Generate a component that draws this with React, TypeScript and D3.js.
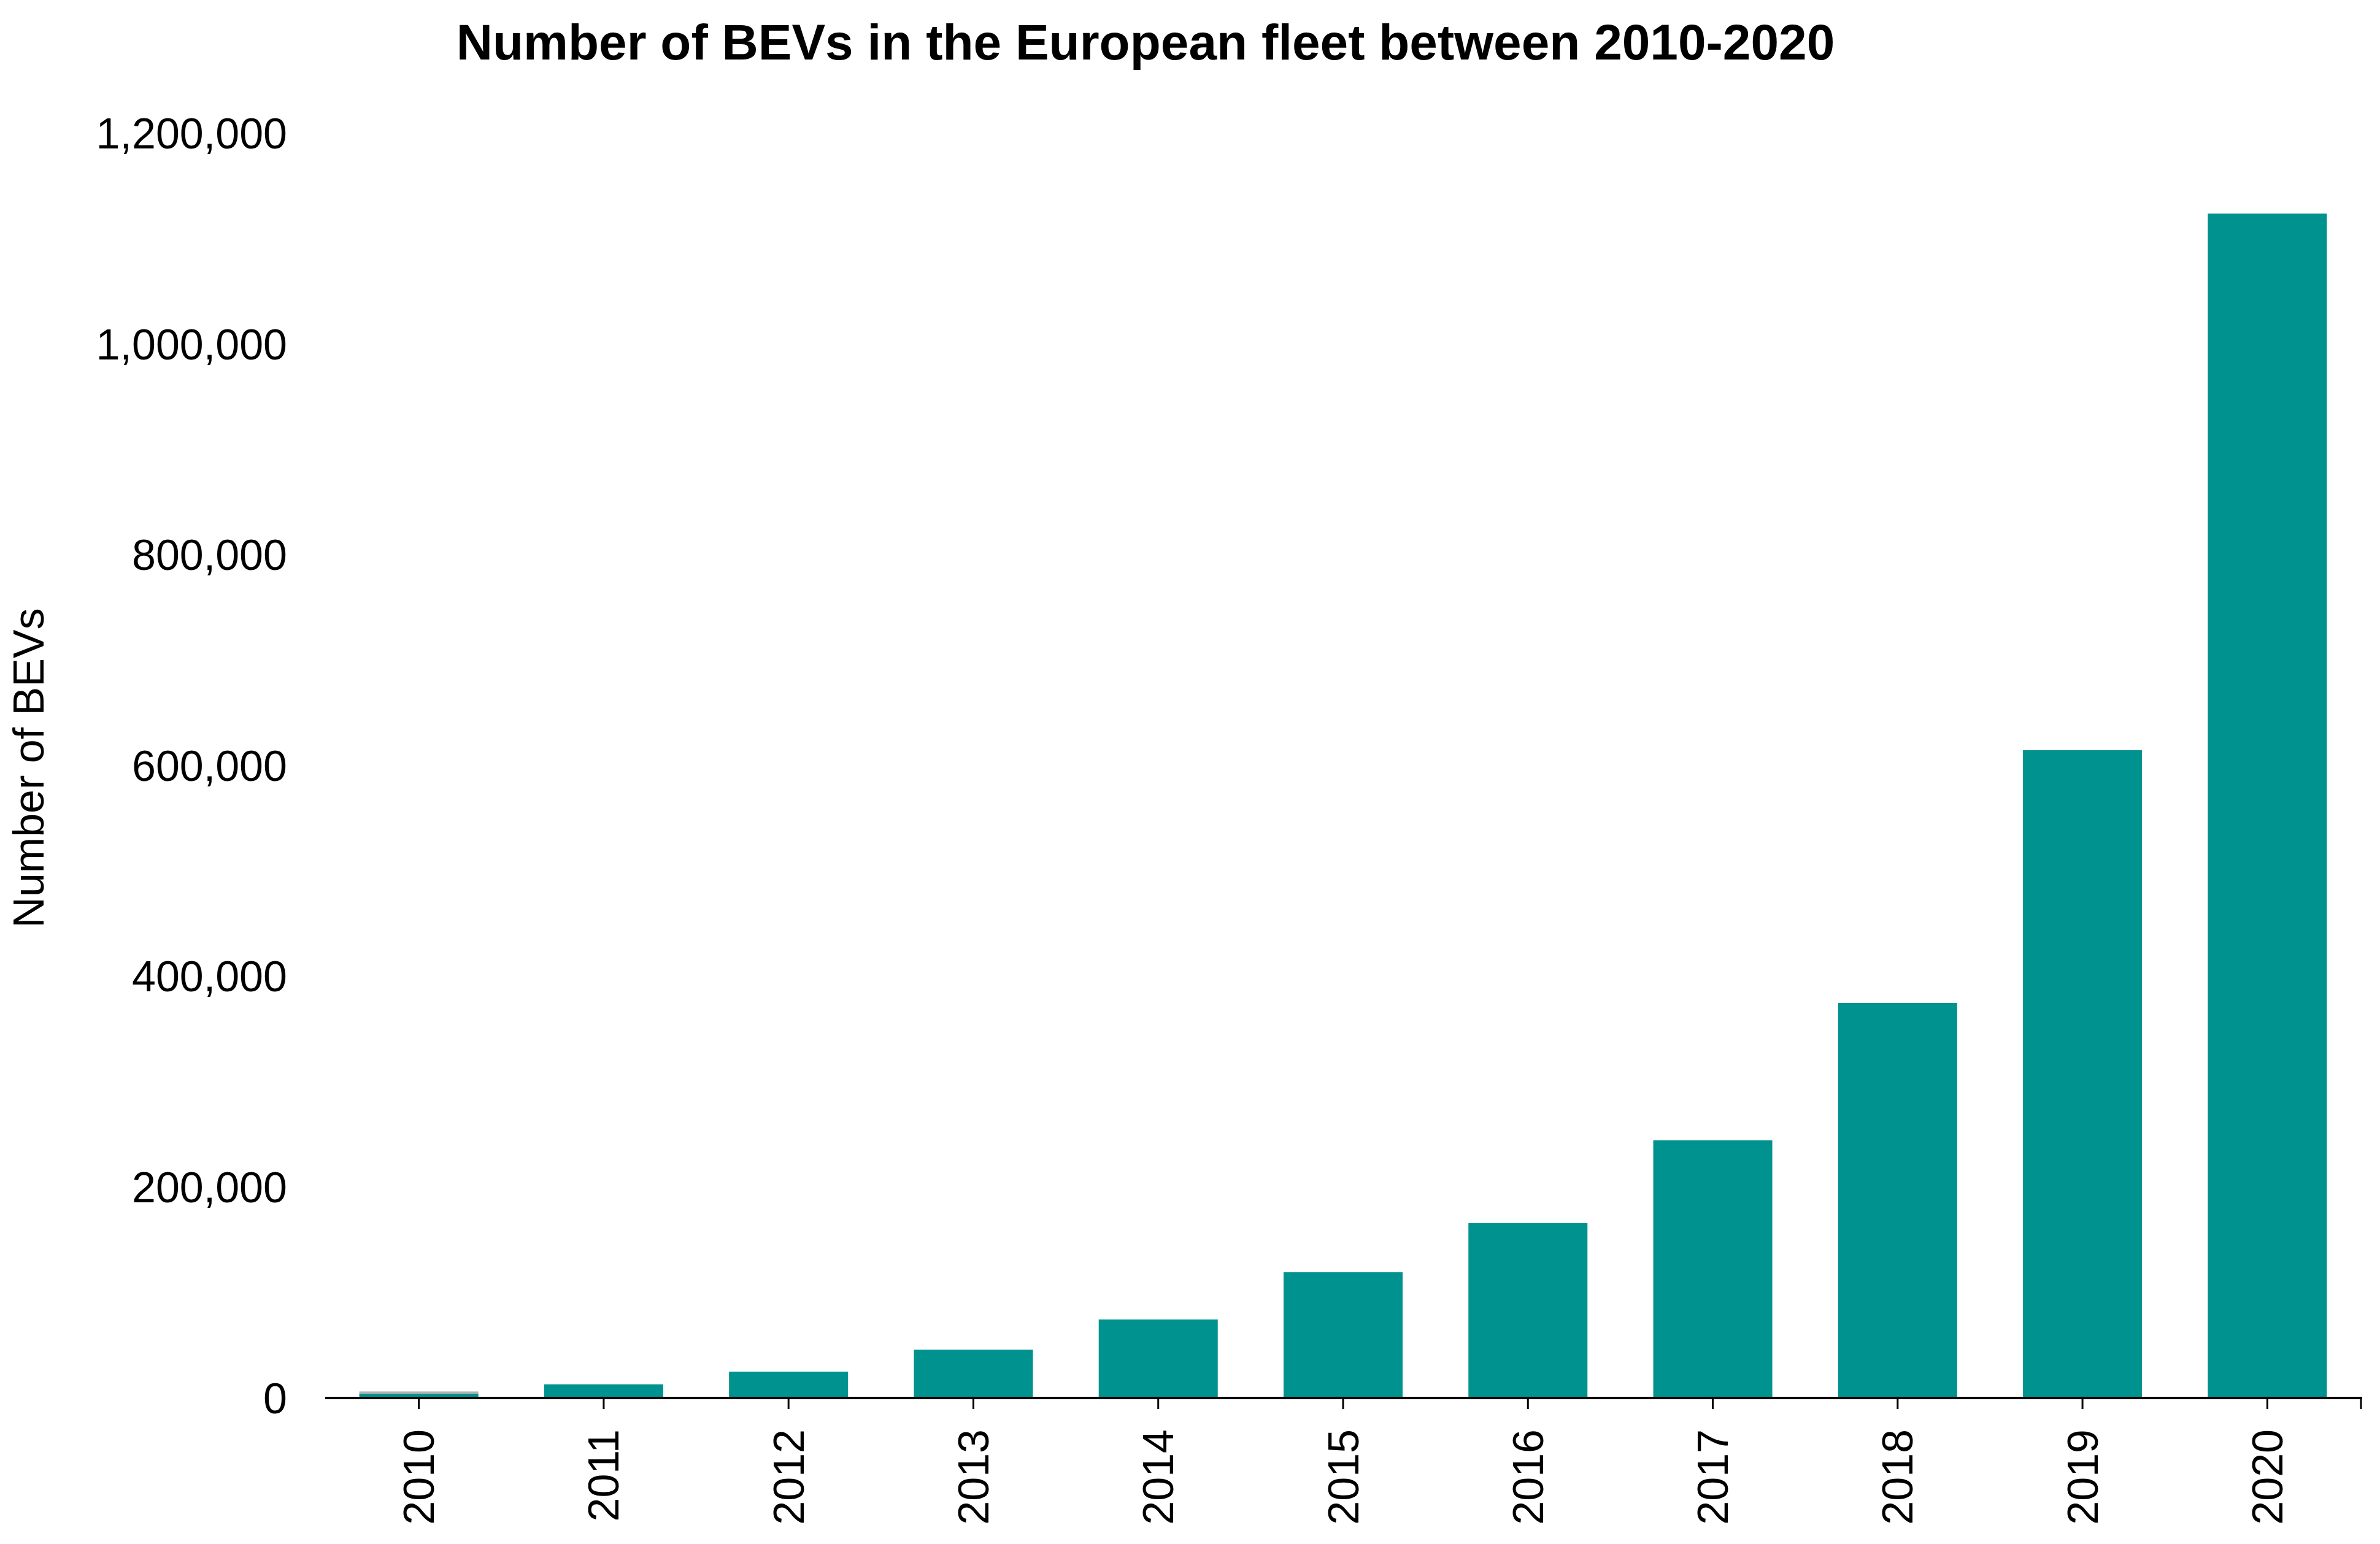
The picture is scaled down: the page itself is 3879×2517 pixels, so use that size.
import { useRef, useEffect } from "react";
import * as d3 from "d3";

const years = ["2010", "2011", "2012", "2013", "2014", "2015", "2016", "2017", "2018", "2019", "2020"];
const bevFleet = [4100, 13000, 25000, 45800, 74500, 119300, 165900, 244500, 374900, 614700, 1123900];
// small grey cap that sits on top of the 2010 bar
const greyCap = [2100, 0, 0, 0, 0, 0, 0, 0, 0, 0, 0];
const yTicks = [0, 200000, 400000, 600000, 800000, 1000000, 1200000];

const title = "Number of BEVs in the European fleet between 2010-2020";
const yLabel = "Number of BEVs";

export default function App() {
  const svgRef = useRef<SVGSVGElement>(null);

  useEffect(() => {
    if (!svgRef.current) return;
    const svg = d3.select(svgRef.current);
    svg.selectAll("*").remove();

    const width = 3879;
    const height = 2517;
    const font = "'Liberation Sans', Arial, Helvetica, sans-serif";
    const teal = "#00928f";

    svg.append("rect").attr("width", width).attr("height", height).attr("fill", "white");

    const x = d3.scaleBand<string>().domain(years).range([532, 3846]).paddingInner(0.356).paddingOuter(0.178);
    const y = d3.scaleLinear().domain([0, 1200000]).range([2279, 217.5]);

    // bars
    svg
      .append("g")
      .selectAll("rect")
      .data(years)
      .enter()
      .append("rect")
      .attr("x", (d) => x(d)!)
      .attr("width", x.bandwidth())
      .attr("y", (_, i) => y(bevFleet[i]))
      .attr("height", (_, i) => y(0) - y(bevFleet[i]))
      .attr("fill", teal);

    svg
      .append("g")
      .selectAll("rect")
      .data(years.filter((_, i) => greyCap[i] > 0))
      .enter()
      .append("rect")
      .attr("x", (d) => x(d)!)
      .attr("width", x.bandwidth())
      .attr("y", (d) => {
        const i = years.indexOf(d);
        return y(bevFleet[i] + greyCap[i]);
      })
      .attr("height", (d) => {
        const i = years.indexOf(d);
        return y(bevFleet[i]) - y(bevFleet[i] + greyCap[i]);
      })
      .attr("fill", "#b3b3b3");

    // x axis
    const xAxis = svg.append("g");
    xAxis
      .append("line")
      .attr("x1", 530)
      .attr("x2", 3850)
      .attr("y1", y(0))
      .attr("y2", y(0))
      .attr("stroke", "black")
      .attr("stroke-width", 4);
    const tickXs = [...years.map((d) => x(d)! + x.bandwidth() / 2), 3848];
    xAxis
      .selectAll(".tick")
      .data(tickXs)
      .enter()
      .append("line")
      .attr("class", "tick")
      .attr("x1", (d) => d)
      .attr("x2", (d) => d)
      .attr("y1", y(0))
      .attr("y2", y(0) + 18)
      .attr("stroke", "black")
      .attr("stroke-width", 3);
    xAxis
      .selectAll(".lbl")
      .data(years)
      .enter()
      .append("text")
      .attr("class", "lbl")
      .attr("transform", (d) => `translate(${x(d)! + x.bandwidth() / 2},2330) rotate(-90)`)
      .attr("text-anchor", "end")
      .attr("dy", "0.35em")
      .attr("font-family", font)
      .attr("font-size", 70)
      .attr("fill", "black")
      .text((d) => d);

    // y tick labels (no axis line)
    const fmt = d3.format(",");
    svg
      .append("g")
      .selectAll("text")
      .data(yTicks)
      .enter()
      .append("text")
      .attr("x", 468)
      .attr("y", (d) => y(d))
      .attr("dy", "0.35em")
      .attr("text-anchor", "end")
      .attr("font-family", font)
      .attr("font-size", 70)
      .attr("fill", "black")
      .text((d) => fmt(d));

    // y label
    svg
      .append("text")
      .attr("transform", "translate(71,1252) rotate(-90)")
      .attr("text-anchor", "middle")
      .attr("font-family", font)
      .attr("font-size", 70)
      .attr("fill", "black")
      .text(yLabel);

    // title
    svg
      .append("text")
      .attr("x", 1867)
      .attr("y", 97)
      .attr("text-anchor", "middle")
      .attr("font-family", font)
      .attr("font-size", 82)
      .attr("font-weight", "bold")
      .attr("fill", "black")
      .text(title);
  }, []);

  return (
    <svg
      ref={svgRef}
      width={3879}
      height={2517}
      viewBox="0 0 3879 2517"
      style={{ position: "absolute", left: 0, top: 0, display: "block" }}
    />
  );
}
